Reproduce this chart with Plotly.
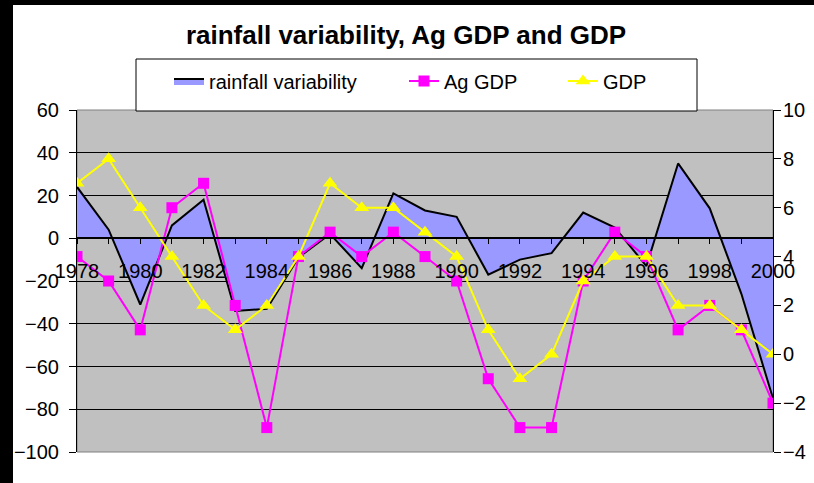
import plotly.graph_objects as go

years = [1978, 1979, 1980, 1981, 1982, 1983, 1984, 1985, 1986, 1987, 1988, 1989,
         1990, 1991, 1992, 1993, 1994, 1995, 1996, 1997, 1998, 1999, 2000]
rainfall = [24, 4, -31, 6, 18, -34, -33, -9, 2, -14, 21, 13,
            10, -17, -10, -7, 12, 5, -13, 35, 14, -26, -75]
ag_gdp = [4, 3, 1, 6, 7, 2, -3, 4, 5, 4, 5, 4,
          3, -1, -3, -3, 3, 5, 4, 1, 2, 1, -2]
gdp = [7, 8, 6, 4, 2, 1, 2, 4, 7, 6, 6, 5,
       4, 1, -1, 0, 3, 4, 4, 2, 2, 1, 0]
x_ticks = [1978, 1980, 1982, 1984, 1986, 1988, 1990, 1992, 1994, 1996, 1998, 2000]
left_ticks = [-100, -80, -60, -40, -20, 0, 20, 40, 60]
right_ticks = [-4, -2, 0, 2, 4, 6, 8, 10]

W, H = 814, 483
L, R, T, B = 77, 41, 110, 31
PW, PH = W - L - R, H - T - B

def px(xp):
    return (xp - L) / PW

def py(yp):
    return (H - B - yp) / PH

def cx(xp):
    return xp / W

def cy(yp):
    return 1 - yp / H

FONT = "Liberation Sans, Arial, sans-serif"

fig = go.Figure()
fig.add_trace(go.Scatter(
    x=years, y=rainfall, name="rainfall variability", mode="lines",
    fill="tozeroy", fillcolor="#9999FF", line=dict(color="black", width=2),
    yaxis="y", legend="legend", hoverinfo="skip"))
fig.add_trace(go.Scatter(
    x=years, y=ag_gdp, name="Ag GDP", mode="lines+markers",
    line=dict(color="#FF00FF", width=2),
    marker=dict(symbol="square", size=11, color="#FF00FF"),
    yaxis="y2", legend="legend2"))
fig.add_trace(go.Scatter(
    x=years, y=gdp, name="GDP", mode="lines+markers",
    line=dict(color="#FFFF00", width=2),
    marker=dict(symbol="triangle-up", size=13, color="#FFFF00"),
    yaxis="y2", legend="legend3"))

legend_common = dict(bgcolor="rgba(0,0,0,0)", borderwidth=0,
                     font=dict(family=FONT, size=20, color="black"),
                     xref="container", yref="container",
                     xanchor="left", yanchor="middle", y=cy(81))

fig.update_layout(
    width=W, height=H,
    margin=dict(l=L, r=R, t=T, b=B, pad=0, autoexpand=False),
    paper_bgcolor="white", plot_bgcolor="#C0C0C0",
    font=dict(family=FONT, size=20, color="black"),
    title=dict(text="<b>rainfall variability, Ag GDP and GDP</b>",
               x=cx(406), xref="container", xanchor="center",
               y=cy(35), yref="container", yanchor="middle",
               font=dict(family=FONT, size=26, color="black")),
    showlegend=True,
    legend=dict(x=cx(169), **legend_common),
    legend2=dict(x=cx(404), **legend_common),
    legend3=dict(x=cx(563), **legend_common),
    xaxis=dict(range=[1978, 2000], tickvals=x_ticks, ticktext=[str(v) for v in x_ticks],
               ticks="outside", ticklen=5, tickcolor="black", tickwidth=1,
               minor=dict(dtick=1, tick0=1978, ticks="outside", ticklen=5,
                          tickcolor="black", tickwidth=1, showgrid=False),
               showgrid=False, zeroline=False, showline=True, linecolor="black",
               linewidth=2, anchor="free", position=py(238), ticklabelstandoff=10,
               tickfont=dict(family=FONT, size=20, color="black")),
    yaxis=dict(range=[-100, 60], tickvals=left_ticks, ticks="outside", ticklen=7,
               tickcolor="black", showgrid=True, gridcolor="black", gridwidth=1,
               zeroline=False, showline=True, linecolor="black", linewidth=1,
               ticklabelstandoff=6, tickfont=dict(family=FONT, size=20, color="black")),
    yaxis2=dict(range=[-4, 10], tickvals=right_ticks, overlaying="y", side="right",
                ticks="outside", ticklen=7, tickcolor="black", showgrid=False,
                zeroline=False, showline=True, linecolor="black", linewidth=1,
                ticklabelstandoff=-2,
                tickfont=dict(family=FONT, size=20, color="black")),
    shapes=[
        dict(type="rect", xref="paper", yref="paper", x0=px(0), x1=px(13),
             y0=py(H), y1=py(0), fillcolor="black", line=dict(width=0), layer="below"),
        dict(type="rect", xref="paper", yref="paper", x0=px(0), x1=px(W),
             y0=py(5), y1=py(0), fillcolor="black", line=dict(width=0), layer="below"),
        dict(type="rect", xref="paper", yref="paper", x0=0, x1=1, y0=0, y1=1,
             line=dict(color="#808080", width=1), layer="below"),
        dict(type="rect", xref="paper", yref="paper", x0=px(136), x1=px(697),
             y0=py(111), y1=py(59), fillcolor="white",
             line=dict(color="black", width=1), layer="above"),
    ],
)

fig.write_html("out.html", config={"displayModeBar": False},
               post_script="document.body.style.margin='0px';document.body.style.overflow='hidden';")
